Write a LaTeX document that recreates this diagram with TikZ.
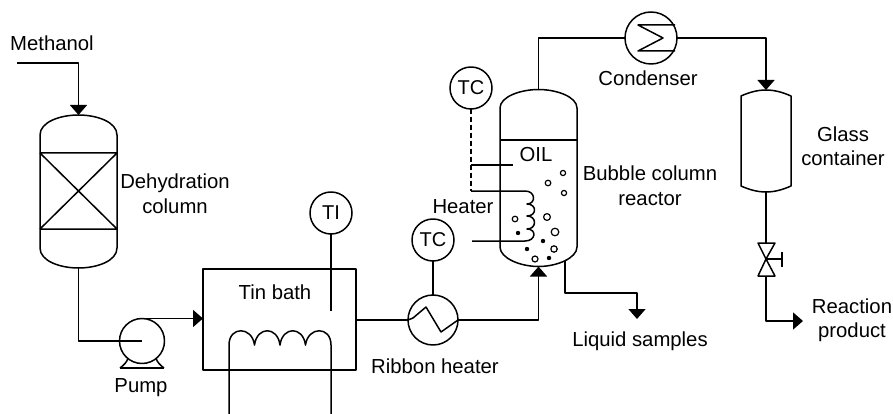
\documentclass[tikz,border=0pt]{standalone}
\usepackage{fontspec}
\setmainfont{Liberation Sans}
\usetikzlibrary{arrows.meta}
\tikzset{
  x=1pt,y=-1pt,
  every path/.style={line width=1.5pt,line join=round},
  lab/.style={font=\fontsize{20.3}{24.5}\selectfont,inner sep=0pt,align=center,text=black},
  ring/.style={circle,draw,minimum size=#1,inner sep=0pt,outer sep=0pt,font=\fontsize{20}{24}\selectfont},
  hull/.style={rectangle,inner sep=0pt,outer sep=0pt},
  flow/.style={-{Triangle[length=10pt,width=17pt]}},
  openb/.style={draw,line width=1.2pt,fill=white},
  fullb/.style={fill=black,draw=none}
}
\begin{document}
\begin{tikzpicture}
\useasboundingbox (0,0) rectangle (893,414);
% ---------- vessels as named hulls
\node[hull,minimum width=77pt,minimum height=153pt] (col) at (78.5,191.5) {};
\node[hull,minimum width=77pt,minimum height=177pt] (reac) at (538.5,178) {};
\node[hull,minimum width=50pt,minimum height=102pt] (glass) at (766,141) {};
\node[hull,draw,minimum width=153pt,minimum height=101pt] (bath) at (279.5,319.5) {};
% dehydration column
\draw (col.west|-0,135) .. controls (col.west|-0,122) and (60,115) .. (col.north)
      .. controls (97,115) and (col.east|-0,122) .. (col.east|-0,135)
      -- (col.east|-0,248) .. controls (col.east|-0,261) and (97,268) .. (col.south)
      .. controls (60,268) and (col.west|-0,261) .. (col.west|-0,248) -- cycle;
\coordinate (cA) at (col.west|-0,153); \coordinate (cB) at (col.east|-0,153);
\coordinate (cC) at (col.west|-0,229); \coordinate (cD) at (col.east|-0,229);
\draw (cA) -- (cB) (cC) -- (cD) (cA) -- (cD) (cB) -- (cC);
% reactor
\draw (reac.west|-0,108) .. controls (reac.west|-0,97) and (520,89.5) .. (reac.north)
      .. controls (557,89.5) and (reac.east|-0,97) .. (reac.east|-0,108)
      -- (reac.east|-0,247) .. controls (reac.east|-0,258) and (557,266.5) .. (reac.south)
      .. controls (520,266.5) and (reac.west|-0,258) .. (reac.west|-0,247) -- cycle;
\draw (reac.west|-0,140) -- (reac.east|-0,140);
% glass container
\draw (glass.west|-0,96) .. controls (750,92) and (758,90) .. (glass.north)
      .. controls (774,90) and (782,92) .. (glass.east|-0,96)
      -- (glass.east|-0,186) .. controls (782,190) and (774,192) .. (glass.south)
      .. controls (758,192) and (750,190) .. (glass.west|-0,186) -- cycle;
% ---------- instruments
\node[ring=42pt] (ti) at (331,213) {TI};
\node[ring=42pt] (tca) at (471,88) {TC};
\node[ring=42pt] (tcb) at (433,240) {TC};
\node[ring=50pt] (rh) at (433,320) {};
\node[ring=52pt] (cond) at (651,38) {};
\node[ring=45pt] (pump) at (142,341) {};
% pump foot
\draw (120,368) .. controls (124,365) and (127,362) .. (128,358);
\draw (164,368) .. controls (160,365) and (157,362) .. (156,358);
\draw (120,368) -- (164,368);
% exchanger internals
\draw (rh.west) -- (413,318) -- (426,307) -- (441,332) -- (rh.east);
\draw (675,25) -- (638,25) -- (663,38) -- (638,51) -- (675,51);
% tin bath coil
\coordinate (c1) at (229,414); \coordinate (c2) at (331,414);
\draw (c1) -- (229,345) .. controls (229,326) and (252,326) .. (254.5,345)
  .. controls (257,326) and (277.5,326) .. (280,345)
  .. controls (282.5,326) and (303,326) .. (305.5,345)
  .. controls (308,326) and (331,326) .. (331,345) -- (c2);
% ---------- reactor heater coil
\coordinate (hs) at (525,191); \coordinate (he) at (472,241);
\coordinate (dk) at (471,191); \coordinate (dt) at (471,165); \coordinate (oilp) at (513,165);
\draw[dash pattern=on 5pt off 3pt] (tca) -- (dk);
\draw (dk) -- (hs) .. controls (536,191) and (536,204) .. (527,204)
  .. controls (537,204) and (537,216) .. (527,216)
  .. controls (537,216) and (537,229) .. (527,229)
  .. controls (537,229) and (536,241) .. (525,241) -- (he);
\draw (dt) -- (oilp);
% bubbles
\draw[openb] (563,173) circle (2.6);
\draw[openb] (548,183) circle (2.8);
\draw[openb] (564,193) circle (2.6);
\draw[openb] (515,219) circle (2.8);
\draw[openb] (547,217) circle (3.4);
\draw[openb] (555,232) circle (3.8);
\draw[openb] (554,249) circle (3.2);
\draw[openb] (535,259) circle (3);
\fill[fullb] (518,233) circle (2.2);
\fill[fullb] (543,241) circle (2.2);
\fill[fullb] (527,249) circle (2.2);
\fill[fullb] (549,258) circle (2.2);
% ---------- valve
\coordinate (vc) at (766,259);
\coordinate (vt) at (766,243); \coordinate (vb) at (766,276);
\draw (758,243) -- (775,243) -- (vc) -- cycle;
\draw (758,276) -- (775,276) -- (vc) -- cycle;
\coordinate (vh) at (782,259);
\draw (vc) -- (vh) (782,252) -- (782,267);
% ---------- connectors
\coordinate (mi) at (17,63);
\draw[flow] (mi) -- (col.north|-0,63) -- (col.north);
\draw (col.south) -- (col.south|-pump) -- (pump.center);
\draw[flow] (pump.north) -- (bath.west|-pump.north);
\draw (ti) -- (331,311);
\draw (bath.east|-rh) -- (rh.west);
\draw (tcb) -- (rh);
\draw[flow] (rh.east) -- (reac.south|-rh) -- (reac.south);
\draw (reac.north) -- (reac.north|-cond) -- (cond.west);
\draw[flow] (cond.east) -- (glass.north|-cond) -- (glass.north);
\draw (glass.south) -- (vt);
\coordinate (rp) at (803,321);
\draw[flow] (vb) -- (vb|-rp) -- (rp);
\coordinate (ls0) at (565,261); \coordinate (ls) at (637,319);
\draw[flow] (ls0) -- (ls0|-0,293) -- (ls|-0,293) -- (ls);
% ---------- labels
\node[lab] (t1) at (52,43) {Methanol};
\node[lab] (t2) at (175,193.5) {Dehydration\\column};
\node[lab] (t3) at (141,388) {Pump};
\node[lab] (t4) at (275,292) {Tin bath};
\node[lab] (t5) at (435,366) {Ribbon heater};
\node[lab] (t6) at (463,207) {Heater};
\node[lab] (t7) at (536,155) {OIL};
\node[lab] (t8) at (650,185.5) {Bubble column\\reactor};
\node[lab] (t9) at (648,78) {Condenser};
\node[lab] (t10) at (843,146) {Glass\\container};
\node[lab] (t11) at (852,320) {Reaction\\product};
\node[lab] (t12) at (640,341) {Liquid samples};
\end{tikzpicture}
\end{document}
